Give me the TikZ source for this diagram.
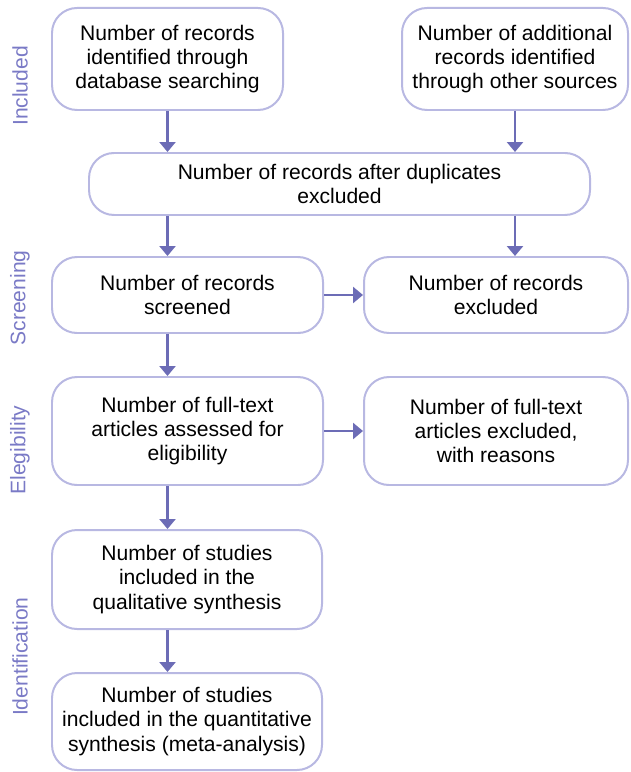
\documentclass[tikz,border=0pt]{standalone}
\usepackage{fontspec}
\setmainfont{Liberation Sans}
\usetikzlibrary{arrows.meta, positioning, calc}
\definecolor{prismaLine}{HTML}{B8B8E2}
\definecolor{prismaArrow}{HTML}{6C6CB6}
\definecolor{prismaLabel}{HTML}{7A7AC6}
\tikzset{
  arrowP/.style={-{Triangle[width=0.48cm, length=0.3cm]}, prismaArrow, line width=2.4pt},
  boxP/.style={rectangle, rounded corners=0.75cm, draw=prismaLine, line width=1.7pt,
               fill=white, align=center, inner sep=2pt},
  phaseP/.style={rotate=90, text=prismaLabel, inner sep=0pt},
}

\begin{document}
\begin{tikzpicture}[font=\fontsize{18}{20.6}\selectfont]
    \useasboundingbox (0,0) rectangle (18.9,-23.16);
    % phases
    \node[phaseP] (pInc) at (0.6,-2.58) {Included};
    \node[phaseP] (pScr) at (0.6,-8.94) {Screening};
    \node[phaseP] (pEli) at (0.6,-13.5) {Elegibility};
    \node[phaseP] (pIde) at (0.6,-19.7) {Identification};
    % boxes
    \node[boxP, minimum width=6.93cm, minimum height=3.06cm] (b1) at (5.025,-1.77)
      {Number of records\\identified through\\database searching};
    \node[boxP, minimum width=6.78cm, minimum height=3.06cm] (b2) at (15.45,-1.77)
      {Number of additional\\records identified\\through other sources};
    \node[boxP, minimum width=15.03cm, minimum height=1.86cm] (b3) at (10.185,-5.52)
      {Number of records after duplicates\\excluded};
    \node[boxP, minimum width=8.13cm, minimum height=2.28cm] (b4) at (5.625,-8.85)
      {Number of records\\screened};
    \node[boxP, minimum width=7.92cm, minimum height=2.28cm] (b5) at (14.88,-8.85)
      {Number of records\\excluded};
    \node[boxP, minimum width=8.13cm, minimum height=3.24cm] (b6) at (5.625,-12.93)
      {Number of full-text\\articles assessed for\\eligibility};
    \node[boxP, minimum width=7.92cm, minimum height=3.24cm] (b7) at (14.88,-12.93)
      {Number of full-text\\articles excluded,\\with reasons};
    \node[boxP, minimum width=8.1cm, minimum height=2.97cm] (b8) at (5.61,-17.385)
      {Number of studies\\included in the\\qualitative synthesis};
    \node[boxP, minimum width=8.1cm, minimum height=2.91cm] (b9) at (5.61,-21.645)
      {Number of studies\\included in the quantitative\\synthesis (meta-analysis)};
    % arrows
    \draw[arrowP] (b1.south) -- (b1.south |- b3.north);
    \draw[arrowP] (b2.south) -- (b2.south |- b3.north);
    \draw[arrowP] (b1.south |- b3.south) -- (b1.south |- b4.north);
    \draw[arrowP] (b2.south |- b3.south) -- (b2.south |- b5.north);
    \draw[arrowP] (b4.east) -- (b5.west);
    \draw[arrowP] (b1.south |- b4.south) -- (b1.south |- b6.north);
    \draw[arrowP] (b6.east) -- (b7.west);
    \draw[arrowP] (b1.south |- b6.south) -- (b1.south |- b8.north);
    \draw[arrowP] (b1.south |- b8.south) -- (b1.south |- b9.north);
\end{tikzpicture}
\end{document}
